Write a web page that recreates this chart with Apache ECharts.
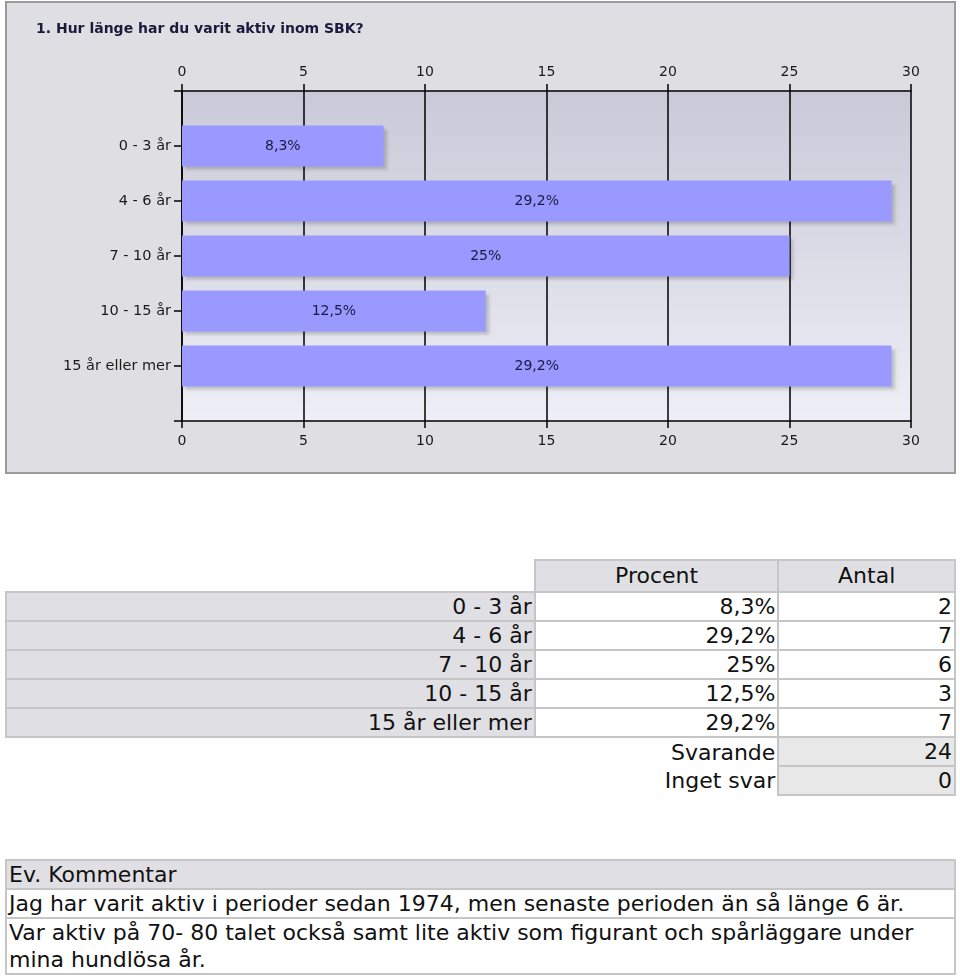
<!DOCTYPE html>
<html>
<head>
<meta charset="utf-8">
<script src="https://cdn.jsdelivr.net/npm/echarts@6/dist/echarts.min.js"></script>
<style>
  html, body { margin: 0; padding: 0; background: #fff; width: 960px; height: 976px; overflow: hidden; }
  #panel { position: absolute; left: 5px; top: 1px; width: 951px; height: 473px; box-sizing: border-box;
           background: #dfdfe3; border: 2px solid #9b9b9b; }
  #chart { position: absolute; left: 0; top: 0; width: 960px; height: 480px; }
  table { position: absolute; border-collapse: collapse; font-family: "DejaVu Sans", Verdana, sans-serif;
          font-size: 22px; color: #111; }
  td { padding: 0 2px; line-height: 27px; white-space: nowrap; }
  #summary { left: 5px; top: 559px; width: 951px; }
  #summary td.b { border: 2px solid #c6c6c6; }
  #summary td.lab { background: #e0e0e4; text-align: right; }
  #summary td.val { background: #fff; text-align: right; }
  #summary td.hd { background: #e0e0e4; text-align: center; line-height: 30px; }
  #summary td.tot { background: #e8e8e8; text-align: right; }
  #summary td.totlab { text-align: right; }
  #comments { left: 5px; top: 859px; width: 951px; }
  #comments td { border: 2px solid #c6c6c6; text-align: left; white-space: normal; padding: 0 2px; }
  #comments td.hd { background: #e0e0e4; }
</style>
</head>
<body>
<div id="panel"></div>
<div id="chart"></div>
<table id="summary"></table>
<table id="comments"></table>
<script>
const title = '1. Hur länge har du varit aktiv inom SBK?';
const categories = ['0 - 3 år', '4 - 6 år', '7 - 10 år', '10 - 15 år', '15 år eller mer'];
const percents = [8.3, 29.2, 25, 12.5, 29.2];
const counts = [2, 7, 6, 3, 7];
const headers = ['Procent', 'Antal'];
const totals = [['Svarande', 24], ['Inget svar', 0]];
const commentHeader = 'Ev. Kommentar';
const comments = [
  'Jag har varit aktiv i perioder sedan 1974, men senaste perioden än så länge 6 är.',
  'Var aktiv på 70- 80 talet också samt lite aktiv som figurant och spårläggare under mina hundlösa år.'
];

function fmtPct(v) { return String(v).replace('.', ',') + '%'; }

const chart = echarts.init(document.getElementById('chart'), null, { renderer: 'canvas' });
const axisFont = { color: '#1a1a1a', fontSize: 14, fontFamily: 'DejaVu Sans, sans-serif' };
const xCommon = {
  type: 'value', min: 0, max: 30, interval: 5,
  axisLine: { show: true, lineStyle: { color: '#000', width: 1.5 } },
  axisTick: { show: true, length: 7, lineStyle: { color: '#000', width: 1.5 } },
  axisLabel: Object.assign({ margin: 13 }, axisFont)
};
chart.setOption({
  animation: false,
  title: {
    text: title, left: 31, top: 17,
    textStyle: { fontFamily: 'DejaVu Sans, sans-serif', fontWeight: 'bold', fontSize: 14, color: '#1a1a3c' }
  },
  grid: {
    left: 182, right: 49, top: 91, bottom: 59, show: true, borderWidth: 0,
    backgroundColor: new echarts.graphic.LinearGradient(0, 0, 0, 1, [
      { offset: 0, color: '#c9c9d8' }, { offset: 1, color: '#eeeef6' }
    ])
  },
  xAxis: [
    Object.assign({}, xCommon, { position: 'bottom',
      splitLine: { show: true, lineStyle: { color: '#000', width: 1.5 } } }),
    Object.assign({}, xCommon, { position: 'top', axisLabel: Object.assign({ margin: 12 }, axisFont), splitLine: { show: false } })
  ],
  yAxis: {
    type: 'category', inverse: true, boundaryGap: false,
    data: [''].concat(categories, ['']),
    axisLine: { show: true, lineStyle: { color: '#000', width: 1.5 } },
    axisTick: { show: true, length: 8, interval: 0, lineStyle: { color: '#000', width: 1.5 } },
    axisLabel: Object.assign({ margin: 11, interval: 0 }, axisFont, { fontSize: 14.5 }),
    splitLine: { show: false }
  },
  series: [{
    type: 'bar', xAxisIndex: 0, barWidth: 41,
    data: [null].concat(percents, [null]),
    itemStyle: { color: '#9999ff', shadowColor: 'rgba(0,0,0,0.18)', shadowOffsetX: 3, shadowOffsetY: 3, shadowBlur: 3 },
    label: {
      show: true, position: 'inside', color: '#1a1a44', fontSize: 14,
      fontFamily: 'DejaVu Sans, sans-serif',
      formatter: p => fmtPct(p.value)
    }
  }]
});

// Summary table
const sum = document.getElementById('summary');
let html = '<colgroup><col style="width:530px"><col style="width:244px"><col style="width:177px"></colgroup>';
html += '<tr><td></td><td class="b hd">' + headers[0] + '</td><td class="b hd">' + headers[1] + '</td></tr>';
categories.forEach((c, i) => {
  html += '<tr><td class="b lab">' + c + '</td><td class="b val">' + fmtPct(percents[i]) +
          '</td><td class="b val">' + counts[i] + '</td></tr>';
});
totals.forEach(t => {
  html += '<tr><td></td><td class="totlab">' + t[0] + '</td><td class="b tot">' + t[1] + '</td></tr>';
});
sum.innerHTML = html;

// Comments table
const com = document.getElementById('comments');
let h2 = '<tr><td class="hd">' + commentHeader + '</td></tr>';
comments.forEach(c => { h2 += '<tr><td>' + c + '</td></tr>'; });
com.innerHTML = h2;
</script>
</body>
</html>
